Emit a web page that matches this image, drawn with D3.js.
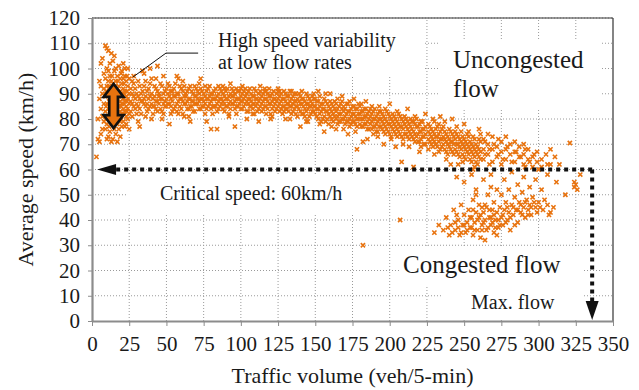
<!DOCTYPE html>
<html>
<head>
<meta charset="utf-8">
<script src="https://cdn.jsdelivr.net/npm/d3@7"></script>
<style>
    body { margin: 0; background: #fff; }
    text { font-family: "Liberation Serif", "Times New Roman", "DejaVu Serif", "Noto Serif", serif; fill: #1a1a1a; }
</style>
</head>
<body>
<div class="chart"></div>
<script>
// each row: [volume, speed, speed, ...]
const lowFlow = [
    [3, 65], [4, 72, 80], [5, 71, 88, 95], [6, 84, 93, 102, 74], [7, 76, 90, 104, 81], [8, 98, 86, 79, 92],
    [9, 109, 96, 89, 83, 76], [10, 108, 100, 93, 86, 78, 72], [11, 107, 73, 95, 90, 84, 99],
    [12, 102, 97, 88, 80, 75, 91, 84], [13, 106, 92, 86, 82, 71, 95], [14, 103, 94, 89, 85, 79, 72],
    [15, 99, 91, 87, 83, 76, 105], [16, 100, 95, 90, 86, 81, 74], [17, 97, 92, 88, 84, 78, 71],
    [18, 101, 93, 89, 85, 80, 76], [19, 96, 91, 87, 83, 79, 73], [20, 99, 94, 90, 86, 82, 77],
    [21, 102, 92, 88, 84, 79, 96], [22, 97, 91, 87, 83, 77, 100], [23, 95, 89, 85, 81, 78],
    [24, 100, 93, 88, 84, 80], [25, 96, 90, 86, 82, 76],
    [9.5, 91, 85, 80], [11.5, 93, 87, 81, 77], [13.5, 90, 84, 97], [15.5, 93, 85, 80, 89], [17.5, 95, 86, 82],
    [19.5, 98, 89, 85, 81], [21.5, 94, 90, 86, 82], [23.5, 97, 91, 87, 83]
];

const freeFlow = [
    [26, 92, 87, 83], [28, 94, 89, 85, 97], [30, 90, 86, 82], [32, 93, 88, 84, 77], [34, 91, 87, 99],
    [36, 95, 89, 85, 81], [38, 92, 88, 84], [40, 90, 86, 96, 80], [42, 93, 89, 85], [44, 91, 87, 83, 101],
    [46, 94, 88, 84], [48, 90, 86, 82, 97], [50, 92, 88, 85], [52, 89, 86, 93, 78], [54, 91, 87, 83],
    [56, 94, 89, 85], [58, 90, 87, 82, 96], [60, 92, 88, 84], [62, 89, 86, 93, 81], [64, 91, 87, 84],
    [66, 93, 88, 85, 79], [68, 90, 87, 83], [70, 92, 89, 86], [72, 90, 87, 84, 94], [74, 91, 88, 85],
    [76, 89, 86, 82, 93], [78, 92, 88, 85], [80, 90, 87, 84, 76], [82, 91, 88, 85], [84, 89, 86, 83, 76],
    [86, 92, 88, 85], [88, 90, 87, 84, 93], [90, 91, 88, 85], [92, 89, 86, 82, 81], [94, 92, 89, 86],
    [96, 90, 87, 84, 77], [98, 91, 88, 85], [100, 89, 87, 84, 92], [102, 91, 88, 85], [104, 90, 87, 83, 80],
    [106, 92, 88, 85], [108, 89, 86, 84, 82], [110, 91, 88, 85], [112, 90, 87, 84, 79], [114, 89, 86, 83],
    [116, 91, 88, 85, 92], [118, 90, 87, 84], [120, 89, 86, 82, 80], [122, 91, 88, 85], [124, 90, 87, 84],
    [126, 89, 86, 83, 91], [128, 88, 85, 82], [130, 90, 87, 84, 80], [132, 89, 86, 83], [134, 88, 85, 82, 91],
    [136, 90, 87, 84], [138, 88, 85, 81], [140, 89, 86, 83, 77], [142, 88, 85, 82], [144, 90, 86, 83, 79],
    [146, 88, 85, 81], [148, 89, 86, 83]
];

const freeFlowOdd = [
    [27, 90, 86, 81, 95], [29, 92, 88, 84], [31, 95, 89, 85, 79], [33, 90, 87, 82], [35, 93, 88, 86, 98],
    [37, 91, 86, 83], [39, 94, 89, 85, 100], [41, 88, 85, 82], [43, 92, 87, 84, 96], [45, 90, 86, 89],
    [47, 93, 88, 83, 80], [49, 91, 87, 85], [51, 94, 90, 86], [53, 88, 85, 82, 91], [55, 92, 89, 84],
    [57, 90, 86, 83, 97], [59, 93, 88, 85], [61, 91, 87, 82, 95], [63, 89, 86, 90], [65, 92, 88, 84, 81],
    [67, 91, 87, 85], [69, 93, 89, 86, 83], [71, 88, 86, 91], [73, 92, 88, 84, 96], [75, 90, 87, 85],
    [77, 91, 88, 84, 79], [79, 93, 89, 86], [81, 88, 85, 90, 82], [83, 92, 88, 85], [85, 90, 87, 84, 93],
    [87, 91, 88, 86], [89, 89, 86, 83, 92], [91, 92, 88, 85], [93, 90, 87, 84, 94], [95, 91, 89, 86],
    [97, 88, 85, 82, 92], [99, 91, 88, 86], [101, 90, 87, 84, 93], [103, 92, 89, 86], [105, 88, 86, 83, 91],
    [107, 90, 87, 85], [109, 92, 89, 86, 82], [111, 88, 86, 83], [113, 91, 88, 85, 93], [115, 90, 87, 84],
    [117, 88, 85, 82, 91], [119, 92, 89, 86], [121, 90, 87, 84, 81], [123, 88, 86, 83], [125, 91, 88, 85, 92],
    [127, 90, 87, 84], [129, 88, 85, 83, 91], [131, 89, 86, 84], [133, 91, 87, 85, 80], [135, 89, 86, 83],
    [137, 87, 85, 82, 90], [139, 90, 87, 84], [141, 88, 86, 82, 91], [143, 87, 84, 81], [145, 89, 86, 84, 79],
    [147, 87, 85, 82], [149, 88, 85, 83, 90]
];

const transition = [
    [150, 88, 85, 82], [152, 87, 84, 80, 91], [154, 86, 83, 79], [156, 88, 84, 81, 75], [158, 86, 83, 80],
    [160, 87, 84, 81, 90], [162, 85, 82, 79], [164, 86, 83, 80, 76], [166, 85, 82, 79], [168, 87, 84, 80, 89],
    [170, 84, 81, 78], [172, 86, 83, 79, 74], [174, 84, 81, 78], [176, 85, 82, 79, 88], [178, 84, 80, 77, 68],
    [180, 85, 82, 78], [182, 83, 80, 77, 71], [184, 84, 81, 78, 87], [186, 83, 80, 76], [188, 82, 79, 76, 85],
    [190, 84, 80, 77], [192, 82, 79, 75, 73], [194, 83, 80, 77], [196, 81, 78, 75, 70], [198, 83, 79, 76],
    [200, 81, 78, 74, 86], [202, 82, 79, 76], [204, 80, 77, 74, 69], [206, 82, 78, 75], [208, 80, 77, 73, 63],
    [210, 81, 78, 74], [212, 79, 76, 73, 84], [214, 80, 77, 74], [216, 79, 75, 72, 61], [218, 80, 77, 73],
    [220, 78, 75, 71, 67], [222, 79, 76, 73], [224, 77, 74, 70, 82],
    [151, 87, 84, 81], [153, 89, 85, 82, 78], [155, 86, 84, 80], [157, 87, 83, 79, 90], [159, 85, 82, 78],
    [161, 86, 83, 80, 77], [163, 87, 84, 81], [165, 84, 81, 78, 88], [167, 86, 82, 79], [169, 85, 83, 80, 76],
    [171, 86, 82, 79], [173, 83, 80, 77, 87], [175, 85, 82, 79], [177, 84, 81, 78, 75], [179, 86, 82, 80],
    [181, 83, 80, 77, 86], [183, 84, 81, 78], [185, 82, 79, 76, 72], [187, 84, 81, 78], [189, 83, 80, 77, 74],
    [191, 81, 78, 75], [193, 83, 80, 77, 85], [195, 82, 79, 76], [197, 80, 77, 74, 84], [199, 82, 78, 75],
    [201, 80, 77, 73, 72], [203, 81, 78, 75], [205, 79, 76, 73, 83], [207, 81, 77, 74], [209, 79, 76, 72, 70],
    [211, 80, 77, 74], [213, 78, 75, 72, 69], [215, 79, 76, 73], [217, 78, 74, 71, 81], [219, 77, 74, 71],
    [221, 79, 75, 72, 69], [223, 76, 73, 70]
];

const nearCapacity = [
    [226, 78, 75, 72, 68], [228, 76, 73, 70], [230, 79, 74, 71, 66], [232, 77, 73, 69], [234, 75, 72, 68, 81],
    [236, 77, 73, 70], [238, 74, 71, 67, 64], [240, 76, 72, 69], [242, 74, 71, 67, 80], [244, 75, 72, 68],
    [246, 73, 70, 66, 62], [248, 75, 71, 68], [250, 72, 69, 65, 78], [252, 74, 70, 67], [254, 71, 68, 64],
    [256, 73, 69, 66, 60], [258, 70, 67, 63], [260, 72, 68, 65, 76],
    [227, 77, 74, 71], [229, 75, 72, 69, 80], [231, 76, 73, 70], [233, 74, 71, 67, 78], [235, 76, 72, 69],
    [237, 75, 72, 68, 79], [239, 73, 70, 66], [241, 75, 71, 68, 62], [243, 73, 70, 66], [245, 74, 70, 67, 77],
    [247, 72, 69, 65], [249, 73, 70, 66, 63], [251, 71, 68, 64], [253, 73, 69, 66, 75], [255, 70, 67, 63],
    [257, 72, 68, 65, 61], [259, 69, 66, 62], [261, 71, 67, 64, 74],
    [263, 72, 68, 64], [266, 70, 66, 74], [269, 73, 68, 63], [272, 69, 65], [275, 71, 67, 62],
    [278, 68, 64, 73], [281, 70, 66], [284, 67, 63, 71], [287, 69, 65], [290, 66, 62, 70], [293, 68, 64],
    [296, 65, 61], [299, 67, 63], [302, 64, 61], [305, 66], [308, 68, 62], [311, 65], [314, 62],
    [264, 71, 66], [267, 68, 62], [270, 70], [273, 66, 72], [276, 64], [279, 69], [282, 63], [285, 67],
    [288, 65], [291, 61, 68], [294, 63], [297, 66], [300, 60], [306, 62],
    [321, 70.5], [324, 53, 55], [328, 58]
];

const congested = [
    [182, 30], [207, 40],
    [230, 35], [233, 38], [236, 36], [238, 41], [240, 34], [241, 38], [243, 44], [244, 36], [245, 42, 57],
    [246, 40], [247, 34], [248, 46], [249, 38], [250, 42, 55], [251, 35], [252, 39], [253, 44], [254, 37],
    [255, 41, 37, 58], [256, 48, 34], [257, 39], [258, 43, 52, 50], [259, 36], [260, 41, 46], [261, 33],
    [262, 38, 45], [263, 43, 56], [264, 40, 32], [265, 36, 45], [266, 50], [267, 41], [268, 38, 53, 58],
    [269, 44], [270, 35, 47], [271, 40], [272, 43, 34, 52], [273, 37], [274, 45], [275, 41, 50], [276, 38],
    [277, 44, 56], [278, 47], [279, 40], [280, 43, 52], [281, 36], [282, 46, 59], [283, 42], [284, 49],
    [285, 44], [286, 39, 54], [287, 47], [288, 43], [289, 51], [290, 45, 57], [291, 41], [292, 48],
    [293, 44], [294, 46, 53], [295, 42], [296, 49], [298, 45, 56], [300, 47], [302, 52], [303, 44],
    [306, 46, 58], [308, 43], [310, 45], [312, 55], [318, 50], [325, 54], [326, 52],
    [239, 37], [242, 35], [244, 39], [246, 37], [248, 35], [250, 38], [252, 36], [254, 41], [256, 44],
    [257, 36], [259, 40], [261, 42], [262, 36], [263, 39], [264, 46], [266, 37], [267, 44], [268, 41],
    [269, 39], [270, 42], [271, 37], [273, 40], [274, 38], [276, 42], [278, 39], [279, 45], [281, 41],
    [283, 45], [284, 38], [286, 44], [288, 46], [289, 42], [291, 47], [293, 42], [295, 45], [297, 47],
    [299, 43], [301, 45], [304, 48], [307, 42]
];

const xTicks = [0, 25, 50, 75, 100, 125, 150, 175, 200, 225, 250, 275, 300, 325, 350];
const yTicks = [0, 10, 20, 30, 40, 50, 60, 70, 80, 90, 100, 110, 120];

const criticalSpeed = 60;
const maxFlow = 336;
const variability = { x: 14.5, lo: 76.4, hi: 93.9 };
const leader = [[27.5, 96.6], [49.7, 106.1], [71.3, 106.1]];

const w = 639;
const h = 390;
const margin = { top: 18, right: 26, bottom: 69, left: 92 };
const orange = "#e8730f";
const serif = '"Liberation Serif", "Times New Roman", "DejaVu Serif", "Noto Serif", serif';

const xScale = d3.scaleLinear().domain([0, 350]).range([margin.left, w - margin.right]);
const yScale = d3.scaleLinear().domain([0, 120]).range([h - margin.bottom, margin.top]);

const svg = d3.select(".chart").append("svg").attr("width", w).attr("height", h);

// dotted grid
svg.append("g")
    .selectAll("line")
    .data(xTicks.slice(1, -1))
    .enter()
    .append("line")
    .attr("x1", d => xScale(d)).attr("x2", d => xScale(d))
    .attr("y1", yScale(0)).attr("y2", yScale(120))
    .attr("stroke", "#9a9a9a").attr("stroke-dasharray", "1,2");

svg.append("g")
    .selectAll("line")
    .data(yTicks.slice(1))
    .enter()
    .append("line")
    .attr("x1", xScale(0)).attr("x2", xScale(350))
    .attr("y1", d => yScale(d)).attr("y2", d => yScale(d))
    .attr("stroke", "#9a9a9a").attr("stroke-dasharray", "1,2");

// white text boxes sitting over the grid
const boxes = [
    [213, 20, 212, 56],
    [440, 40, 160, 70],
    [128, 176, 260, 37],
    [400, 248, 183, 37],
    [443, 285, 140, 35]
];
svg.append("g")
    .selectAll("rect")
    .data(boxes)
    .enter()
    .append("rect")
    .attr("x", d => d[0]).attr("y", d => d[1])
    .attr("width", d => d[2]).attr("height", d => d[3])
    .attr("fill", "#fff");

// frame
svg.append("line")
    .attr("x1", xScale(0)).attr("x2", xScale(350))
    .attr("y1", yScale(120)).attr("y2", yScale(120))
    .attr("stroke", "#333").attr("stroke-width", 1.2);
svg.append("line")
    .attr("x1", xScale(350)).attr("x2", xScale(350))
    .attr("y1", yScale(0)).attr("y2", yScale(120))
    .attr("stroke", "#333").attr("stroke-width", 1.2);

// points
const points = [lowFlow, freeFlow, freeFlowOdd, transition, nearCapacity, congested]
    .flatMap(group => group.flatMap(row => row.slice(1).map(v => [row[0], v])));

const r = 2.1;
svg.append("g")
    .selectAll("path")
    .data(points)
    .enter()
    .append("path")
    .attr("transform", d => "translate(" + xScale(d[0]) + "," + yScale(d[1]) + ")")
    .attr("d", "M" + -r + "," + -r + "L" + r + "," + r + "M" + -r + "," + r + "L" + r + "," + -r)
    .attr("stroke", orange)
    .attr("stroke-width", 1.6)
    .attr("fill", "none");

// axes
const xAxis = svg.append("g")
    .attr("transform", "translate(0," + yScale(0) + ")")
    .call(d3.axisBottom(xScale).tickValues(xTicks).tickSize(5).tickPadding(10).tickSizeOuter(0));
const yAxis = svg.append("g")
    .attr("transform", "translate(" + xScale(0) + ",0)")
    .call(d3.axisLeft(yScale).tickValues(yTicks).tickSize(4).tickPadding(8).tickSizeOuter(0));

[xAxis, yAxis].forEach(a => {
    a.attr("font-family", null).attr("font-size", null);
    a.select(".domain").attr("stroke", "#8c8c8c").attr("stroke-width", 2.2);
    a.selectAll(".tick line").attr("stroke", "#8c8c8c");
    a.selectAll(".tick text")
        .attr("fill", "#1a1a1a")
        .style("font-size", "21px")
        .style("font-family", serif);
});

// critical speed and max flow arrows
svg.append("line")
    .attr("x1", xScale(maxFlow)).attr("x2", xScale(3.4) + 18)
    .attr("y1", yScale(criticalSpeed)).attr("y2", yScale(criticalSpeed))
    .attr("stroke", "#111").attr("stroke-width", 4).attr("stroke-dasharray", "4,4");
svg.append("path")
    .attr("d", "M" + xScale(3.4) + "," + yScale(criticalSpeed) + "l19,-5.5v11z")
    .attr("fill", "#111");

svg.append("line")
    .attr("x1", xScale(maxFlow)).attr("x2", xScale(maxFlow))
    .attr("y1", yScale(criticalSpeed)).attr("y2", yScale(0) - 18)
    .attr("stroke", "#111").attr("stroke-width", 4).attr("stroke-dasharray", "4,4");
svg.append("path")
    .attr("d", "M" + xScale(maxFlow) + "," + (yScale(0) - 1) + "l-6.5,-19h13z")
    .attr("fill", "#111");

// double arrow for speed variability
const ax = xScale(variability.x);
const aTop = yScale(variability.hi);
const aBot = yScale(variability.lo);
const head = 13, hw = 10, sw = 4.3;
svg.append("path")
    .attr("d", [
        "M", ax, aTop,
        "L", ax + hw, aTop + head,
        "L", ax + sw, aTop + head,
        "L", ax + sw, aBot - head,
        "L", ax + hw, aBot - head,
        "L", ax, aBot,
        "L", ax - hw, aBot - head,
        "L", ax - sw, aBot - head,
        "L", ax - sw, aTop + head,
        "L", ax - hw, aTop + head,
        "Z"
    ].join(" "))
    .attr("fill", orange)
    .attr("stroke", "#111")
    .attr("stroke-width", 2.6);

svg.append("path")
    .datum(leader)
    .attr("d", d3.line().x(d => xScale(d[0])).y(d => yScale(d[1])))
    .attr("fill", "none")
    .attr("stroke", "#111")
    .attr("stroke-width", 1);

// labels
const labels = [
    ["High speed variability", 218, 47, 20],
    ["at low flow rates", 218, 69, 20],
    ["Uncongested", 453, 68, 25],
    ["flow", 453, 97, 25],
    ["Critical speed: 60km/h", 160, 200, 20],
    ["Congested flow", 403, 273, 25],
    ["Max. flow", 471, 309, 20]
];
svg.append("g")
    .selectAll("text")
    .data(labels)
    .enter()
    .append("text")
    .attr("x", d => d[1]).attr("y", d => d[2])
    .style("font-size", d => d[3] + "px")
    .style("font-family", serif)
    .text(d => d[0]);

svg.append("text")
    .attr("x", (xScale(0) + xScale(350)) / 2)
    .attr("y", 383)
    .attr("text-anchor", "middle")
    .style("font-size", "22px")
    .style("font-family", serif)
    .text("Traffic volume (veh/5-min)");

svg.append("text")
    .attr("transform", "translate(33," + ((yScale(0) + yScale(120)) / 2) + ") rotate(-90)")
    .attr("text-anchor", "middle")
    .style("font-size", "22px")
    .style("font-family", serif)
    .text("Average speed (km/h)");
</script>
</body>
</html>
